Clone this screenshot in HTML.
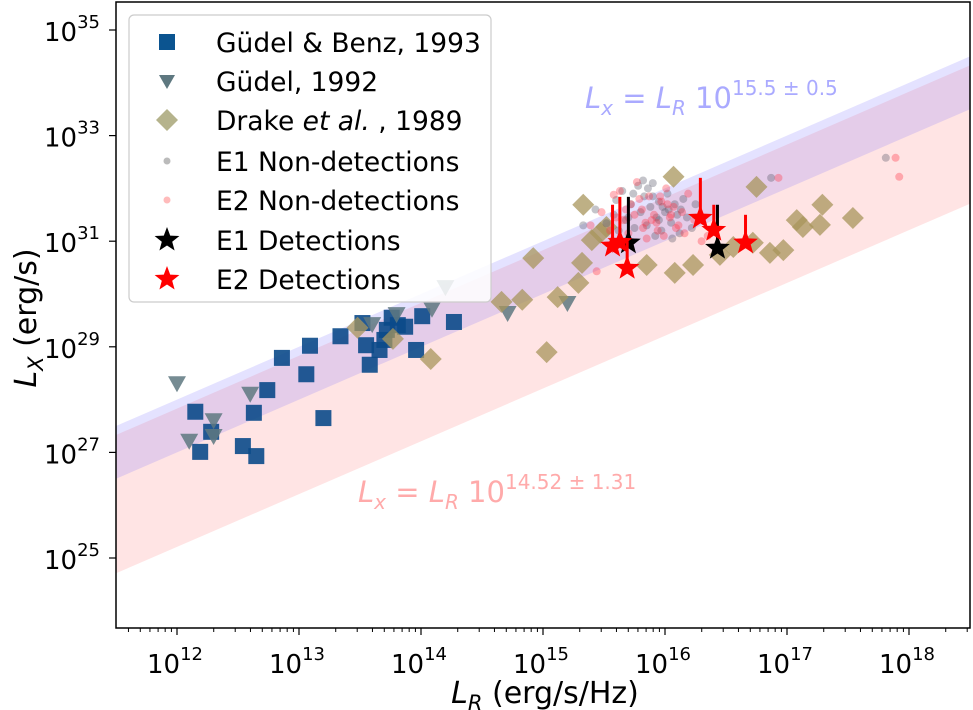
<!DOCTYPE html>
<html><head><meta charset="utf-8"><style>
body{margin:0;background:#fff;}
svg{display:block;font-family:"DejaVu Sans","Liberation Sans",sans-serif;}
</style></head><body>
<svg id="c" width="973" height="710" viewBox="0 0 973 710"></svg>
<script>
const xTicks=[12,13,14,15,16,17,18];
const yTicks=[25,27,29,31,33,35];
const gbX=[12.15,12.19,12.28,12.54,12.65,12.63,12.74,12.86,13.06,13.09,13.34,13.52,13.55,13.58,13.66,13.70,13.72,13.76,13.81,13.87,13.96,14.01,14.27,13.20];
const gbY=[27.77,27.01,27.39,27.12,26.93,27.75,28.18,28.79,28.48,29.02,29.20,29.45,29.03,28.66,28.94,29.13,29.32,29.55,29.41,29.38,28.94,29.58,29.47,27.65];
const g92X=[12.0,12.10,12.30,12.30,12.60,13.60,13.80,14.09,14.20,14.71,15.20];
const g92Y=[28.31,27.22,27.61,27.31,28.11,29.43,29.62,29.72,30.13,29.64,29.83];
const drX=[13.48,13.77,14.08,15.33,14.92,14.66,14.83,15.12,15.29,15.32,15.03,15.40,15.85,16.08,16.23,16.07,16.45,16.56,16.72,16.86,16.97,17.08,17.13,17.27,17.29,17.54,16.75,15.52,15.47];
const drY=[29.36,29.15,28.77,31.69,30.68,29.85,29.89,29.94,30.21,30.59,28.90,31.02,30.55,30.40,30.55,32.22,30.74,30.89,30.97,30.78,30.83,31.40,31.27,31.31,31.69,31.44,32.03,31.27,31.16];
const e1nX=[15.33,15.52,16.87,17.81,15.43,15.60,15.65,15.70,15.72,15.78,15.80,15.83,15.85,15.88,15.90,15.93,15.95,15.97,16.00,16.02,16.05,16.08,16.10,16.12,16.15,15.75,15.86,15.92,16.03,15.68,15.90,16.18,16.22,15.98,15.82,15.62,16.06,15.74,15.95,16.13,15.58,16.25];
const e1nY=[31.30,31.34,32.20,32.58,31.60,31.78,31.95,31.45,31.70,32.05,31.55,31.85,31.30,31.65,32.10,31.45,31.75,31.20,31.55,31.90,31.35,31.70,31.50,31.15,31.80,31.25,32.00,31.10,31.60,31.40,31.85,31.45,31.25,31.65,32.15,31.20,31.05,31.90,31.40,31.60,31.50,31.70];
const e2nX=[15.39,15.44,16.93,17.89,17.92,15.48,15.58,15.66,15.72,15.77,15.81,15.84,15.87,15.91,15.94,15.97,16.01,16.04,16.07,16.11,16.14,16.19,15.70,15.79,15.89,15.99,16.09,15.63,15.85,16.02,15.75,15.93,16.16,15.55,16.24,16.30,15.68,15.96,16.05,15.82,15.60,16.35];
const e2nY=[31.30,30.43,32.20,32.58,32.22,31.55,31.88,31.40,31.70,32.12,31.60,31.35,31.85,31.50,31.20,31.75,32.00,31.45,31.65,31.30,31.55,31.90,31.15,31.80,31.40,31.10,31.25,31.95,31.05,31.70,31.50,31.35,31.15,31.20,31.40,31.00,31.60,31.85,31.50,31.25,31.45,31.10];
const e1dX=[15.70,16.43];
const e1dY=[30.97,30.87];
const e1dTop=[31.84,31.69];
const e2dX=[15.57,15.63,15.69,16.29,16.40,16.66];
const e2dY=[30.91,30.98,30.49,31.44,31.21,30.97];
const e2dTop=[31.69,31.84,31.0,32.20,31.69,31.50];
const fitBlue=[15.5,0.5];
const fitRed=[14.52,1.31];

const NS="http://www.w3.org/2000/svg";
const svg=document.getElementById('c');
const L=116,R=970,T=2,B=628;
const xs=v=>177+(v-12)*122;
const ys=v=>558-(v-25)*52.8;
function mk(t,a,p){const e=document.createElementNS(NS,t);for(const k in a)e.setAttribute(k,a[k]);(p||svg).appendChild(e);return e;}
const cp=mk('clipPath',{id:'pa'});mk('rect',{x:L,y:T,width:R-L,height:B-T},cp);
const plot=mk('g',{'clip-path':'url(#pa)'});


const xmin=11.5,xmax=18.6;
function band(f,col,name){const [c,w]=f;
 const pts=[[xmin,xmin+c+w],[xmax,xmax+c+w],[xmax,xmax+c-w],[xmin,xmin+c-w]].map(p=>xs(p[0])+','+ys(p[1])).join(' ');
 const b=mk('polygon',{points:pts,fill:col},plot);
 
 }
band(fitRed,'rgba(255,90,90,0.16)','fit-band-e2');
band(fitBlue,'rgba(120,110,255,0.2)','fit-band-e1');
function star(cx,cy,r,col,p){let d='';for(let i=0;i<10;i++){const a=-Math.PI/2+i*Math.PI/5,rr=i%2?r*0.42:r;d+=(i?'L':'M')+(cx+rr*Math.cos(a)).toFixed(1)+','+(cy+rr*Math.sin(a)).toFixed(1);}return mk('path',{d:d+'Z',fill:col},p);}
gbX.forEach((x,i)=>{const e=mk('rect',{x:xs(x)-8,y:ys(gbY[i])-8,width:16,height:16,fill:'#0b4a8a','fill-opacity':0.9},plot);
 
 });
g92X.forEach((x,i)=>{const cx=xs(x),cy=ys(g92Y[i]);const e=mk('polygon',{points:`${cx-9},${cy-7} ${cx+9},${cy-7} ${cx},${cy+9}`,fill:'#5e7880','fill-opacity':0.85},plot);
 
 });
drX.forEach((x,i)=>{const cx=xs(x),cy=ys(drY[i]);const e=mk('polygon',{points:`${cx},${cy-11} ${cx+11},${cy} ${cx},${cy+11} ${cx-11},${cy}`,fill:'#a8955c','fill-opacity':0.75},plot);
 
 });
e1nX.forEach((x,i)=>{const e=mk('circle',{cx:xs(x),cy:ys(e1nY[i]),r:4,fill:'#555566','fill-opacity':0.35},plot);
 
 });
e2nX.forEach((x,i)=>{const e=mk('circle',{cx:xs(x),cy:ys(e2nY[i]),r:4,fill:'#ff3344','fill-opacity':0.35},plot);
 
 });
e1dX.forEach((x,i)=>{const l=mk('line',{x1:xs(x),x2:xs(x),y1:ys(e1dY[i]),y2:ys(e1dTop[i]),stroke:'#000','stroke-width':3},plot);
 
 
 const s=star(xs(x),ys(e1dY[i]),13,'#000',plot);
 
 });
e2dX.forEach((x,i)=>{const l=mk('line',{x1:xs(x),x2:xs(x),y1:ys(e2dY[i]),y2:ys(e2dTop[i]),stroke:'#f00','stroke-width':3},plot);
 
 
 const s=star(xs(x),ys(e2dY[i]),13,'#f00',plot);
 
 });
function ann(x,y,col,sup,name){const t=mk('text',{x:x,y:y,fill:col,'font-size':29});
 
 
 t.innerHTML=`<tspan font-style="italic">L</tspan><tspan font-style="italic" font-size="20" dy="7">x</tspan><tspan dy="-7"> = </tspan><tspan font-style="italic">L</tspan><tspan font-style="italic" font-size="20" dy="7">R</tspan><tspan dy="-7"> 10</tspan><tspan font-size="20" dy="-13">${sup}</tspan>`;}
ann(585,108,'#aaaaff','15.5 ± 0.5','fit-label-e1');
ann(358,502,'#ffaaaa','14.52 ± 1.31','fit-label-e2');
const ax=mk('rect',{x:L,y:T,width:R-L,height:B-T,fill:'none',stroke:'#000','stroke-width':1.5});


for(let d=11;d<=18;d++)for(let m=2;m<=9;m++){const v=d+Math.log10(m);if(v<xmin||v>18.55)continue;mk('line',{x1:xs(v),x2:xs(v),y1:B,y2:B+4,stroke:'#000','stroke-width':1});}
xTicks.forEach(v=>{mk('line',{x1:xs(v),x2:xs(v),y1:B,y2:B+7,stroke:'#000','stroke-width':1.2});
 const t=mk('text',{x:xs(v)-2,y:673,'font-size':26,'text-anchor':'middle'});
 
 
 t.innerHTML=`10<tspan font-size="18" dy="-13">${v}</tspan>`;});
yTicks.forEach(v=>{mk('line',{x1:L-7,x2:L,y1:ys(v),y2:ys(v),stroke:'#000','stroke-width':1.2});
 const t=mk('text',{x:100,y:ys(v)+11,'font-size':26,'text-anchor':'end'});
 
 
 t.innerHTML=`10<tspan font-size="18" dy="-13">${v}</tspan>`;});
const xl=mk('text',{x:545,y:703,'font-size':30,'text-anchor':'middle'});


xl.innerHTML='<tspan font-style="italic">L</tspan><tspan font-style="italic" font-size="21" dy="7">R</tspan><tspan dy="-7"> (erg/s/Hz)</tspan>';
const yl=mk('text',{x:0,y:0,'font-size':30,'text-anchor':'middle',transform:'translate(36,318) rotate(-90)'});


yl.innerHTML='<tspan font-style="italic">L</tspan><tspan font-style="italic" font-size="21" dy="7">X</tspan><tspan dy="-7"> (erg/s)</tspan>';
const lg=mk('g',{});


mk('rect',{x:129,y:15,width:362,height:287,rx:5,fill:'rgba(255,255,255,0.85)',stroke:'#ccc','stroke-width':1.2},lg);
const labels=['Güdel &amp; Benz, 1993','Güdel, 1992','Drake <tspan font-style="italic">et al.</tspan> , 1989','E1 Non-detections','E2 Non-detections','E1 Detections','E2 Detections'];
const rowY=[42,81,120,161,200,240,279];
labels.forEach((lab,i)=>{const cy=rowY[i],cx=167;
 if(i==0)mk('rect',{x:cx-8,y:cy-8,width:16,height:16,fill:'#0b5490'},lg);
 if(i==1)mk('polygon',{points:`${cx-8},${cy-6} ${cx+8},${cy-6} ${cx},${cy+8}`,fill:'#5e7880'},lg);
 if(i==2)mk('polygon',{points:`${cx},${cy-11} ${cx+11},${cy} ${cx},${cy+11} ${cx-11},${cy}`,fill:'#b5b38c'},lg);
 if(i==3)mk('circle',{cx:cx,cy:cy,r:3.5,fill:'#bbb'},lg);
 if(i==4)mk('circle',{cx:cx,cy:cy,r:3.5,fill:'#ffbbbb'},lg);
 if(i==5)star(cx,cy,13,'#000',lg);
 if(i==6)star(cx,cy,13,'#f00',lg);
 const t=mk('text',{x:216,y:cy+10,'font-size':26.5},lg);
 
 
 t.innerHTML=lab;});
</script>
</body></html>
